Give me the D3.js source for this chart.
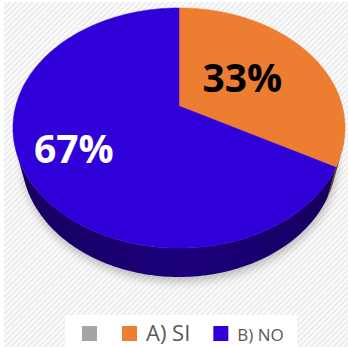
<!DOCTYPE html>
<html>
<head>
<meta charset="utf-8">
<script src="https://cdn.jsdelivr.net/npm/d3@7"></script>
<style>
  html, body { margin: 0; padding: 0; background: #fff; }
  svg { display: block; }
</style>
</head>
<body>
<svg id="chart" width="348" height="347"></svg>
<script>
// Survey answers
const categories = ["", "A) SI", "B) NO"];
const values = [0, 33, 67];
const colors = ["#a5a5a5", "#ed7d31", "#3000d8"];

const W = 348, H = 347;
const svg = d3.select("#chart");
const defs = svg.append("defs");

// light diagonal hatch background
const pat = defs.append("pattern")
  .attr("id", "hatch").attr("patternUnits", "userSpaceOnUse")
  .attr("width", 4).attr("height", 4)
  .attr("patternTransform", "rotate(45)");
pat.append("rect").attr("width", 4).attr("height", 4).attr("fill", "#fbfbfb");
pat.append("rect").attr("width", 1.6).attr("height", 4).attr("fill", "#e9e9e9");

svg.append("rect").attr("width", W).attr("height", H).attr("fill", "#fff");
svg.append("rect").attr("x", 4).attr("y", 2).attr("width", W - 4).attr("height", H - 2)
  .attr("fill", "url(#hatch)");

// blur for the drop shadow
defs.append("filter").attr("id", "soft").attr("x", "-20%").attr("y", "-20%")
  .attr("width", "140%").attr("height", "140%")
  .append("feGaussianBlur").attr("stdDeviation", 4);

// perspective projection of a disc lying flat, seen from above-front
const cx = 179, cy = 106, focal = 626, dist = 3.835;
const phi = Math.asin(0.711);
const sP = Math.sin(phi), cP = Math.cos(phi);
const thickness = 0.284;

function proj(X, Y, Z) {
  const d = dist - (Y * sP + Z * cP);
  return [cx + focal * X / d, cy + focal * (Z * sP - Y * cP) / d];
}
// pie angle (clockwise from the back) + radius fraction + height -> screen
function at(theta, r, Y) {
  return proj(r * Math.sin(theta), Y, -r * Math.cos(theta));
}

const pie = d3.pie().sort(null).value(d => d)(values);
const total = d3.sum(values);
const line = d3.line();
const step = Math.PI / 180;

function arcPts(a0, a1, Y) {
  const n = Math.max(1, Math.ceil((a1 - a0) / step));
  return d3.range(n + 1).map(i => at(a0 + (a1 - a0) * i / n, 1, Y));
}

// shadow under the base
const basePts = arcPts(0, 2 * Math.PI, -thickness).map(p => [p[0] + 1, p[1] + 5]);
svg.append("path").attr("d", line(basePts) + "Z")
  .attr("fill", "#000").attr("opacity", 0.22).attr("filter", "url(#soft)");

// outer walls: the viewer-facing stretch of each slice, shaded with a horizontal gradient
const facing = t => -1 - dist * cP * Math.cos(t) > 0;
const walls = svg.append("g");
pie.forEach((s, i) => {
  if (s.endAngle - s.startAngle <= 0) return;
  const n = Math.ceil((s.endAngle - s.startAngle) / step);
  const ts = d3.range(n + 1).map(k => s.startAngle + (s.endAngle - s.startAngle) * k / n)
    .filter(facing);
  if (ts.length < 2) return;
  const top = ts.map(t => at(t, 1, 0));
  const bot = ts.map(t => at(t, 1, -thickness)).reverse();
  const xs = top.map(p => p[0]);
  const x0 = d3.min(xs), x1 = d3.max(xs);
  const gid = "wall" + i;
  const g = defs.append("linearGradient").attr("id", gid)
    .attr("gradientUnits", "userSpaceOnUse")
    .attr("x1", x0).attr("x2", x1).attr("y1", 0).attr("y2", 0);
  const sorted = ts.map((t, k) => ({ x: xs[k], t })).sort((a, b) => a.x - b.x);
  sorted.filter((d, k) => k % 6 === 0 || k === sorted.length - 1).forEach(d => {
    g.append("stop")
      .attr("offset", x1 > x0 ? (d.x - x0) / (x1 - x0) : 0)
      .attr("stop-color", d3.rgb(colors[i]).darker(1.55 + 0.9 * Math.abs(Math.sin(d.t))));
  });
  walls.append("path").attr("d", line([...top, ...bot]) + "Z")
    .attr("fill", `url(#${gid})`);
});

// top faces
svg.append("g").selectAll("path")
  .data(pie.filter(s => s.value > 0))
  .join("path")
  .attr("d", s => line([proj(0, 0, 0), ...arcPts(s.startAngle, s.endAngle, 0)]) + "Z")
  .attr("fill", s => colors[s.index])
  .attr("stroke", s => colors[s.index]).attr("stroke-width", 0.5);

// percentage labels
const labelRadius = [0.5, 0.47, 0.7];
const labelColor = ["#000", "#000", "#fff"];
const fmt = d3.format(".0%");
svg.append("g").selectAll("text")
  .data(pie.filter(s => s.value > 0))
  .join("text")
  .attr("x", s => at((s.startAngle + s.endAngle) / 2, labelRadius[s.index], 0)[0])
  .attr("y", s => at((s.startAngle + s.endAngle) / 2, labelRadius[s.index], 0)[1] + 13)
  .attr("text-anchor", "middle")
  .attr("font-family", "'Open Sans', sans-serif")
  .attr("font-weight", 700)
  .attr("font-size", 39)
  .attr("fill", s => labelColor[s.index])
  .text(s => fmt(s.value / total));

// legend
svg.append("rect").attr("x", 65).attr("y", 315).attr("width", 232).attr("height", 32)
  .attr("fill", "#fff");
const legendSize = { "A) SI": 22, "B) NO": 17 };
const lg = svg.append("g");
let lx = 82;
categories.forEach((c, i) => {
  lg.append("rect").attr("x", lx).attr("y", 326).attr("width", 15).attr("height", 15)
    .attr("fill", colors[i]);
  lx += 15;
  if (c) {
    lx += 9;
    const t = lg.append("text").attr("x", lx).attr("y", 341)
      .attr("font-family", "'Open Sans', sans-serif")
      .attr("font-size", legendSize[c] || 17)
      .attr("fill", "#595959")
      .text(c);
    lx += t.node().getComputedTextLength() + 23;
  } else {
    lx += 25;
  }
});
</script>
</body>
</html>
